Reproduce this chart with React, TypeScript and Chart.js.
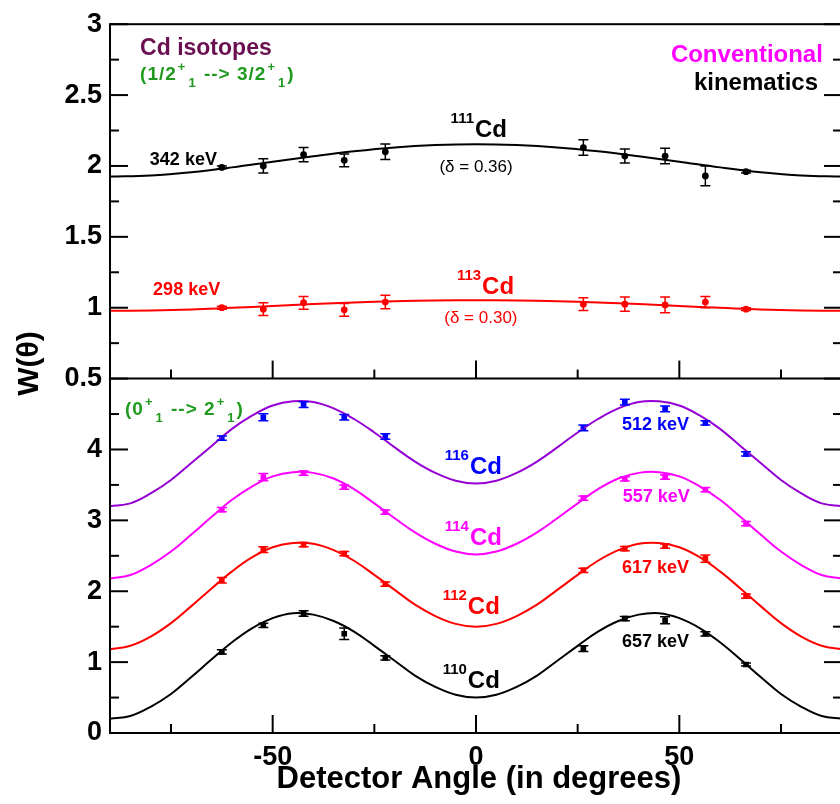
import React, { useEffect, useRef } from 'react';
import { Chart, registerables } from 'chart.js';

Chart.register(...registerables);

const FONT = "'Liberation Sans', Arial, Helvetica, sans-serif";

// ---------- data ----------
const bottomCurveAngles = [-90, -85, -80, -75, -70, -65, -60, -55, -50, -45, -40, -35, -30, -25, -20, -15, -10, -5, 0, 5, 10, 15, 20, 25, 30, 35, 40, 45, 50, 55, 60, 65, 70, 75, 80, 85, 90];
const topCurveAngles = [-90, -80, -70, -60, -50, -40, -30, -20, -10, 0, 10, 20, 30, 40, 50, 60, 70, 80, 90];

const fit111 = [1.925, 1.933, 1.956, 1.99, 2.03, 2.069, 2.104, 2.131, 2.147, 2.153, 2.147, 2.131, 2.104, 2.069, 2.03, 1.99, 1.956, 1.933, 1.925];
const fit113 = [0.978, 0.981, 0.988, 1.0, 1.012, 1.026, 1.037, 1.046, 1.051, 1.053, 1.051, 1.046, 1.037, 1.026, 1.012, 1.0, 0.988, 0.981, 0.978];

const fit110 = [0.2, 0.24, 0.37, 0.55, 0.79, 1.04, 1.28, 1.48, 1.62, 1.69, 1.67, 1.58, 1.43, 1.23, 1.02, 0.81, 0.65, 0.54, 0.5, 0.54, 0.65, 0.81, 1.02, 1.23, 1.43, 1.58, 1.67, 1.69, 1.62, 1.48, 1.28, 1.04, 0.79, 0.55, 0.37, 0.24, 0.2];
const fit112 = [1.18, 1.23, 1.36, 1.55, 1.79, 2.04, 2.28, 2.48, 2.62, 2.68, 2.67, 2.58, 2.43, 2.23, 2.02, 1.81, 1.65, 1.54, 1.5, 1.54, 1.65, 1.81, 2.02, 2.23, 2.43, 2.58, 2.67, 2.68, 2.62, 2.48, 2.28, 2.04, 1.79, 1.55, 1.36, 1.23, 1.18];
const fit114 = [2.18, 2.23, 2.37, 2.56, 2.8, 3.05, 3.29, 3.48, 3.62, 3.68, 3.67, 3.59, 3.44, 3.24, 3.03, 2.83, 2.67, 2.56, 2.52, 2.56, 2.67, 2.83, 3.03, 3.24, 3.44, 3.59, 3.67, 3.68, 3.62, 3.48, 3.29, 3.05, 2.8, 2.56, 2.37, 2.23, 2.18];
const fit116 = [3.2, 3.24, 3.38, 3.57, 3.81, 4.05, 4.29, 4.48, 4.62, 4.68, 4.67, 4.58, 4.43, 4.24, 4.03, 3.83, 3.67, 3.56, 3.52, 3.56, 3.67, 3.83, 4.03, 4.24, 4.43, 4.58, 4.67, 4.68, 4.62, 4.48, 4.29, 4.05, 3.81, 3.57, 3.38, 3.24, 3.2];

const pointAngles = [-62.5, -52.3, -42.4, -32.4, -22.3, 26.4, 36.6, 46.5, 56.4, 66.4];

const w111 = [1.99, 2.0, 2.08, 2.04, 2.1, 2.13, 2.07, 2.07, 1.93, 1.96];
const e111 = [0.01, 0.05, 0.05, 0.045, 0.055, 0.055, 0.05, 0.055, 0.07, 0.01];
const w113 = [1.0, 0.99, 1.035, 0.985, 1.04, 1.025, 1.025, 1.02, 1.04, 0.99];
const e113 = [0.01, 0.045, 0.045, 0.045, 0.048, 0.045, 0.05, 0.055, 0.04, 0.01];

const w110 = [1.145, 1.52, 1.686, 1.4, 1.06, 1.19, 1.615, 1.59, 1.4, 0.967];
const e110 = [0.03, 0.03, 0.04, 0.08, 0.03, 0.04, 0.03, 0.05, 0.03, 0.02];
const w112 = [2.155, 2.587, 2.657, 2.531, 2.099, 2.296, 2.601, 2.638, 2.46, 1.93];
const e112 = [0.04, 0.04, 0.03, 0.03, 0.03, 0.03, 0.03, 0.03, 0.05, 0.03];
const w114 = [3.15, 3.61, 3.666, 3.469, 3.117, 3.314, 3.587, 3.61, 3.432, 2.953];
const e114 = [0.03, 0.05, 0.03, 0.03, 0.03, 0.03, 0.03, 0.03, 0.03, 0.03];
const w116 = [4.159, 4.455, 4.634, 4.455, 4.183, 4.305, 4.667, 4.573, 4.376, 3.939];
const e116 = [0.03, 0.05, 0.04, 0.04, 0.04, 0.04, 0.04, 0.04, 0.03, 0.03];

const xMajorTicks = [-50, 0, 50];
const xMinorTicks = [-75, -25, 25, 75];
const topMajorTicks = [0.5, 1, 1.5, 2, 2.5, 3];
const topMinorTicks = [0.75, 1.25, 1.75, 2.25, 2.75];
const botMajorTicks = [0, 1, 2, 3, 4];
const botMinorTicks = [0.5, 1.5, 2.5, 3.5, 4.5];

// ---------- colours ----------
const BLACK = '#000000';
const RED = '#ff0000';
const MAGENTA = '#ff00ff';
const VIOLET = '#9400d3';
const BLUE = '#0000ff';
const GREEN = '#1f9a1f';
const MAROON = '#6a1050';

// ---------- annotations ----------
type Note = { axis: 'yTop' | 'yBot'; x: number; y: number; text: string; color: string; size: number; bold?: boolean; align?: CanvasTextAlign };
const notes: Note[] = [
  { axis: 'yTop', x: -82.6, y: 2.782, text: 'Cd isotopes', color: MAROON, size: 23, bold: true },
  { axis: 'yTop', x: 85.3, y: 2.733, text: 'Conventional', color: MAGENTA, size: 24, bold: true, align: 'right' },
  { axis: 'yTop', x: 84.1, y: 2.536, text: 'kinematics', color: BLACK, size: 24, bold: true, align: 'right' },
  { axis: 'yTop', x: -80.2, y: 2.008, text: '342 keV', color: BLACK, size: 18, bold: true },
  { axis: 'yTop', x: 0, y: 1.959, text: '(\u03b4 = 0.36)', color: BLACK, size: 17, align: 'center' },
  { axis: 'yTop', x: -79.4, y: 1.087, text: '298 keV', color: RED, size: 18, bold: true },
  { axis: 'yTop', x: 1.2, y: 0.89, text: '(\u03b4 = 0.30)', color: RED, size: 17, align: 'center' },
  { axis: 'yBot', x: 35.9, y: 4.276, text: '512 keV', color: BLUE, size: 18, bold: true },
  { axis: 'yBot', x: 36.1, y: 3.263, text: '557 keV', color: MAGENTA, size: 18, bold: true },
  { axis: 'yBot', x: 35.9, y: 2.264, text: '617 keV', color: RED, size: 18, bold: true },
  { axis: 'yBot', x: 35.9, y: 1.21, text: '657 keV', color: BLACK, size: 18, bold: true },
];

type Iso = { axis: 'yTop' | 'yBot'; x: number; y: number; mass: string; color: string };
const isotopes: Iso[] = [
  { axis: 'yTop', x: -0.25, y: 2.205, mass: '111', color: BLACK },
  { axis: 'yTop', x: 1.5, y: 1.094, mass: '113', color: RED },
  { axis: 'yBot', x: -1.5, y: 3.657, mass: '116', color: BLUE },
  { axis: 'yBot', x: -1.5, y: 2.658, mass: '114', color: MAGENTA },
  { axis: 'yBot', x: -2.0, y: 1.674, mass: '112', color: RED },
  { axis: 'yBot', x: -2.0, y: 0.633, mass: '110', color: BLACK },
];

type Seg = { t: string; k: 'n' | 'sup' | 'sub' };
type Trans = { axis: 'yTop' | 'yBot'; x: number; y: number; segs: Seg[] };
const transitions: Trans[] = [
  {
    axis: 'yTop', x: -82.6, y: 2.606,
    segs: [
      { t: '(1/2', k: 'n' }, { t: '+', k: 'sup' }, { t: '1', k: 'sub' },
      { t: ' --> 3/2', k: 'n' }, { t: '+', k: 'sup' }, { t: '1', k: 'sub' }, { t: ')', k: 'n' },
    ],
  },
  {
    axis: 'yBot', x: -86.3, y: 4.487,
    segs: [
      { t: '(0', k: 'n' }, { t: '+', k: 'sup' }, { t: '1', k: 'sub' },
      { t: ' --> 2', k: 'n' }, { t: '+', k: 'sup' }, { t: '1', k: 'sub' }, { t: ')', k: 'n' },
    ],
  },
];

// ---------- datasets ----------
const curve = (angles: number[], vals: number[], color: string, axis: string) => ({
  type: 'line' as const,
  data: angles.map((a, i) => ({ x: a, y: vals[i] })),
  borderColor: color,
  borderWidth: 2,
  pointRadius: 0,
  tension: 0.4,
  fill: false,
  yAxisID: axis,
});

const pts = (vals: number[], errs: number[], color: string, axis: string, style: string, r: number) => ({
  type: 'line' as const,
  data: pointAngles.map((a, i) => ({ x: a, y: vals[i] })),
  showLine: false,
  pointRadius: r,
  pointStyle: style,
  backgroundColor: color,
  borderColor: color,
  borderWidth: 0,
  yAxisID: axis,
  errors: errs,
});

const datasets: any[] = [
  curve(topCurveAngles, fit111, BLACK, 'yTop'),
  curve(topCurveAngles, fit113, RED, 'yTop'),
  curve(bottomCurveAngles, fit110, BLACK, 'yBot'),
  curve(bottomCurveAngles, fit112, RED, 'yBot'),
  curve(bottomCurveAngles, fit114, MAGENTA, 'yBot'),
  curve(bottomCurveAngles, fit116, VIOLET, 'yBot'),
  pts(w111, e111, BLACK, 'yTop', 'circle', 3.4),
  pts(w113, e113, RED, 'yTop', 'circle', 3.4),
  pts(w110, e110, BLACK, 'yBot', 'rect', 4),
  pts(w112, e112, RED, 'yBot', 'rect', 4),
  pts(w114, e114, MAGENTA, 'yBot', 'rect', 4),
  pts(w116, e116, BLUE, 'yBot', 'rect', 4),
];

// ---------- plugins ----------
const errorBars = {
  id: 'errorBars',
  afterDatasetsDraw(chart: any) {
    const { ctx } = chart;
    chart.data.datasets.forEach((ds: any, di: number) => {
      if (!ds.errors) return;
      const meta = chart.getDatasetMeta(di);
      const ys = chart.scales[ds.yAxisID];
      ctx.save();
      ctx.strokeStyle = ds.borderColor;
      ctx.lineWidth = 1.5;
      meta.data.forEach((el: any, i: number) => {
        const v = ds.data[i].y;
        const e = ds.errors[i];
        const px = el.x;
        const y1 = ys.getPixelForValue(v + e);
        const y2 = ys.getPixelForValue(v - e);
        ctx.beginPath();
        ctx.moveTo(px, y1); ctx.lineTo(px, y2);
        ctx.moveTo(px - 5, y1); ctx.lineTo(px + 5, y1);
        ctx.moveTo(px - 5, y2); ctx.lineTo(px + 5, y2);
        ctx.stroke();
      });
      ctx.restore();
    });
  },
};

const frame = {
  id: 'frame',
  afterDatasetsDraw(chart: any) {
    const { ctx, chartArea: a, scales } = chart;
    const xs = scales.x, yT = scales.yTop, yB = scales.yBot;
    const mid = yT.getPixelForValue(0.5);
    const MAJ = 18, MIN = 9;
    ctx.save();
    ctx.strokeStyle = BLACK;
    ctx.lineWidth = 2;
    ctx.lineCap = 'butt';
    const seg = (x1: number, y1: number, x2: number, y2: number) => {
      ctx.beginPath(); ctx.moveTo(x1, y1); ctx.lineTo(x2, y2); ctx.stroke();
    };
    ctx.strokeRect(a.left, a.top, a.right - a.left, a.bottom - a.top);
    seg(a.left, mid, a.right, mid);
    const yTicks = (sc: any, vals: number[], len: number) => vals.forEach((v) => {
      const p = sc.getPixelForValue(v);
      seg(a.left, p, a.left + len, p);
      seg(a.right, p, a.right - len, p);
    });
    yTicks(yT, topMajorTicks, MAJ); yTicks(yT, topMinorTicks, MIN);
    yTicks(yB, botMajorTicks, MAJ); yTicks(yB, botMinorTicks, MIN);
    const xTicks = (vals: number[], len: number) => vals.forEach((v) => {
      const p = xs.getPixelForValue(v);
      seg(p, mid, p, mid - len);
      seg(p, a.bottom, p, a.bottom - len);
    });
    xTicks(xMajorTicks, MAJ); xTicks(xMinorTicks, MIN);
    ctx.restore();
  },
};

const texts = {
  id: 'texts',
  afterDraw(chart: any) {
    const { ctx, chartArea: a, scales } = chart;
    const xs = scales.x;
    ctx.save();
    ctx.textBaseline = 'alphabetic';
    notes.forEach((n) => {
      ctx.font = `${n.bold ? 'bold ' : ''}${n.size}px ${FONT}`;
      ctx.fillStyle = n.color;
      ctx.textAlign = n.align || 'left';
      ctx.fillText(n.text, xs.getPixelForValue(n.x), scales[n.axis].getPixelForValue(n.y));
    });
    isotopes.forEach((n) => {
      const px = xs.getPixelForValue(n.x);
      const py = scales[n.axis].getPixelForValue(n.y);
      ctx.fillStyle = n.color;
      ctx.textAlign = 'left';
      ctx.font = `bold 24px ${FONT}`;
      ctx.fillText('Cd', px, py);
      ctx.textAlign = 'right';
      ctx.font = `bold 15px ${FONT}`;
      ctx.fillText(n.mass, px - 1, py - 14);
    });
    transitions.forEach((tr) => {
      let px = xs.getPixelForValue(tr.x);
      const py = scales[tr.axis].getPixelForValue(tr.y);
      ctx.fillStyle = GREEN;
      ctx.textAlign = 'left';
      (ctx as any).letterSpacing = '1px';
      tr.segs.forEach((s) => {
        if (s.k === 'n') {
          ctx.font = `bold 19px ${FONT}`;
          ctx.fillText(s.t, px, py);
          px += ctx.measureText(s.t).width;
        } else if (s.k === 'sup') {
          ctx.font = `bold 13px ${FONT}`;
          ctx.fillText(s.t, px + 1, py - 9);
          px += ctx.measureText(s.t).width + 3;
        } else {
          ctx.font = `bold 13px ${FONT}`;
          ctx.fillText(s.t, px, py + 7);
          px += ctx.measureText(s.t).width + 1;
        }
      });
      (ctx as any).letterSpacing = '0px';
    });
    // axis titles
    ctx.fillStyle = BLACK;
    ctx.textAlign = 'center';
    ctx.font = `bold 31px ${FONT}`;
    ctx.fillText('Detector Angle (in degrees)', xs.getPixelForValue(0) + 3, a.bottom + 55);
    ctx.font = `bold 30px ${FONT}`;
    ctx.translate(a.left - 80, (a.top + a.bottom) / 2 - 15);
    ctx.rotate(-Math.PI / 2);
    ctx.textBaseline = 'middle';
    ctx.fillText('W(\u03b8)', 0, 0);
    ctx.restore();
  },
};

const tickFont = { family: FONT, size: 27, weight: 'bold' as const };

export default function App() {
  const ref = useRef<HTMLCanvasElement>(null);
  useEffect(() => {
    document.body.style.margin = '0';
    const canvas = ref.current!;
    const chart = new Chart(canvas, {
      type: 'line',
      data: { datasets },
      options: {
        responsive: false,
        animation: false,
        devicePixelRatio: 1,
        layout: { padding: { top: 22, right: 8, bottom: 0, left: 0 } },
        plugins: { legend: { display: false }, tooltip: { enabled: false } },
        scales: {
          x: {
            type: 'linear', position: 'bottom', min: -90, max: 90,
            grid: { display: false, drawTicks: false },
            border: { display: false },
            ticks: { font: tickFont, color: BLACK, padding: 8, maxRotation: 0, callback: (v: any) => String(v) },
            afterBuildTicks: (s: any) => { s.ticks = xMajorTicks.map((v) => ({ value: v })); },
            afterFit: (s: any) => { s.height = 71; },
          },
          yBot: {
            type: 'linear', position: 'left', stack: 'panels', stackWeight: 1, min: 0, max: 5,
            grid: { display: false, drawTicks: false },
            border: { display: false },
            ticks: { font: tickFont, color: BLACK, padding: 8, callback: (v: any) => String(v) },
            afterBuildTicks: (s: any) => { s.ticks = botMajorTicks.map((v) => ({ value: v })); },
            afterFit: (s: any) => { s.width = 110; },
          },
          yTop: {
            type: 'linear', position: 'left', stack: 'panels', stackWeight: 1, min: 0.5, max: 3,
            grid: { display: false, drawTicks: false },
            border: { display: false },
            ticks: { font: tickFont, color: BLACK, padding: 8, callback: (v: any) => String(v) },
            afterBuildTicks: (s: any) => { s.ticks = topMajorTicks.map((v) => ({ value: v })); },
            afterFit: (s: any) => { s.width = 110; },
          },
        },
      } as any,
      plugins: [errorBars, frame, texts],
    });
    return () => chart.destroy();
  }, []);
  return (
    <div style={{ width: 840, height: 804, overflow: 'hidden', position: 'relative', background: '#fff' }}>
      <canvas ref={ref} width={850} height={804} style={{ display: 'block' }} />
    </div>
  );
}
